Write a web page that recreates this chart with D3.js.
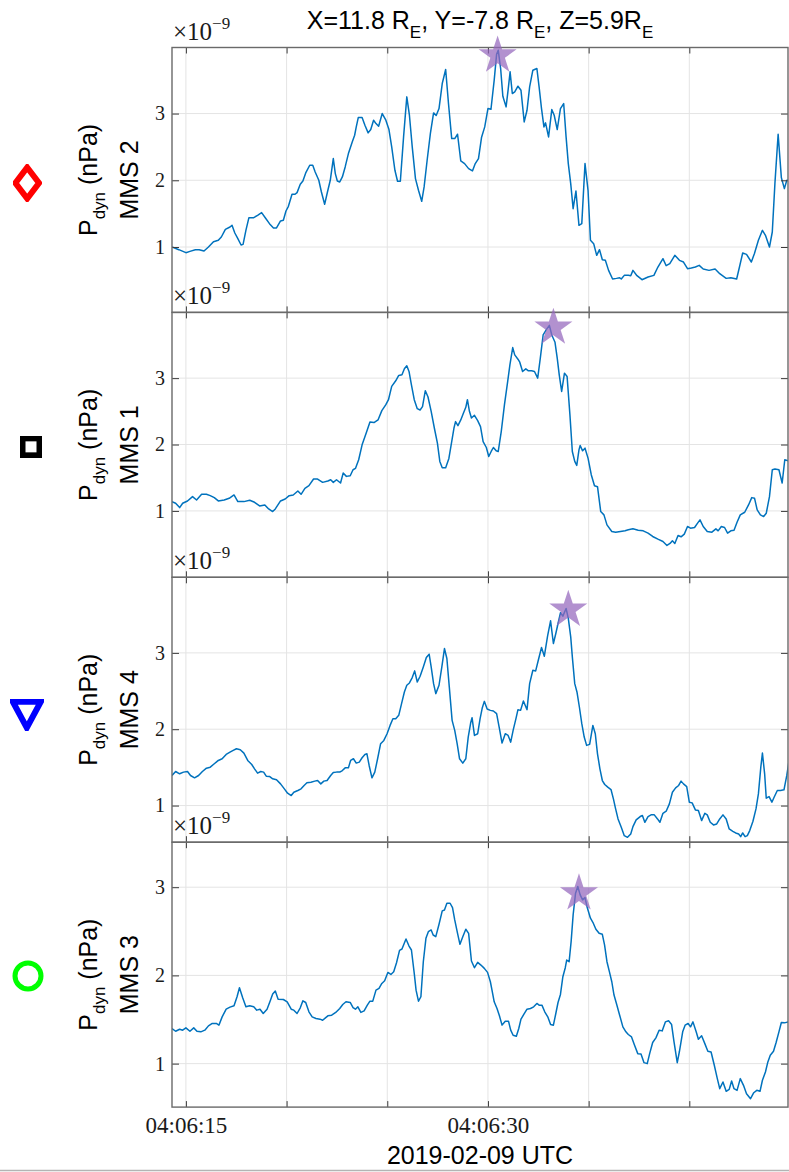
<!DOCTYPE html>
<html>
<head>
<meta charset="utf-8">
<script src="https://cdn.jsdelivr.net/npm/d3@7"></script>
<style>
  body { margin: 0; background: #fff; }
  svg { display: block; }
</style>
</head>
<body>
<svg id="chart" width="789" height="1172"></svg>
<script>
// Dynamic pressure, seconds after 04:06:00 UTC (values in units of 1e-9)
const tMMS2 = [14.31,14.65,15.00,15.20,15.47,15.66,15.90,16.12,16.37,16.61,16.76,16.96,17.19,17.29,17.43,17.58,17.74,17.84,17.98,18.13,18.37,18.56,18.76,18.95,19.15,19.35,19.50,19.70,19.84,19.97,20.09,20.27,20.42,20.52,20.68,20.81,20.95,21.15,21.30,21.42,21.60,21.73,21.89,22.03,22.17,22.32,22.42,22.52,22.64,22.77,22.91,23.07,23.26,23.38,23.46,23.56,23.75,23.89,24.05,24.18,24.32,24.44,24.57,24.75,24.93,25.08,25.22,25.38,25.51,25.65,25.81,25.97,26.10,26.24,26.40,26.55,26.71,26.83,26.98,27.14,27.30,27.43,27.57,27.73,27.90,28.04,28.20,28.35,28.49,28.65,28.84,29.04,29.23,29.37,29.53,29.68,29.84,30.00,30.15,30.31,30.43,30.51,30.63,30.74,30.90,31.00,31.10,31.21,31.33,31.49,31.64,31.80,31.94,32.07,32.23,32.43,32.54,32.66,32.78,32.86,33.01,33.17,33.29,33.44,33.60,33.76,33.88,33.99,34.11,34.23,34.37,34.52,34.66,34.82,34.97,35.09,35.25,35.40,35.54,35.68,35.83,35.99,36.19,36.38,36.54,36.62,36.77,36.97,37.09,37.20,37.40,37.65,37.95,38.24,38.44,38.69,38.85,39.03,39.28,39.51,39.71,39.91,40.10,40.30,40.49,40.69,40.98,41.28,41.51,41.83,42.06,42.35,42.49,42.65,42.84,43.08,43.23,43.43,43.63,43.78,43.98,44.12,44.25,44.41,44.57,44.72,44.84,44.94];
const pMMS2 = [1.00,0.96,0.915,0.935,0.96,0.96,0.94,1.00,1.08,1.10,1.15,1.265,1.30,1.325,1.21,1.125,1.03,1.04,1.25,1.44,1.44,1.475,1.515,1.435,1.35,1.285,1.285,1.39,1.40,1.54,1.61,1.79,1.79,1.815,1.94,1.99,2.11,2.225,2.225,2.125,2.00,1.825,1.64,1.825,2.00,2.325,2.10,1.99,1.975,2.05,2.20,2.40,2.575,2.675,2.80,2.94,2.94,2.825,2.71,2.76,2.90,2.85,2.81,3.00,2.90,2.765,2.50,2.15,1.985,1.985,2.65,3.25,2.975,2.50,2.025,1.85,1.685,1.90,2.30,2.70,3.01,2.97,3.075,3.45,3.66,3.15,2.625,2.625,2.69,2.29,2.25,2.175,2.14,2.25,2.325,2.64,2.80,3.075,3.065,3.50,3.89,3.95,3.675,3.26,3.10,3.35,3.625,3.30,3.325,3.41,3.35,2.875,3.05,3.40,3.65,3.675,3.40,3.075,2.80,2.86,2.65,3.06,2.975,2.76,3.075,3.15,2.65,2.25,1.95,1.575,1.84,1.325,1.35,2.25,1.85,1.10,1.05,0.875,0.96,0.81,0.80,0.65,0.52,0.53,0.54,0.52,0.575,0.575,0.57,0.65,0.57,0.51,0.55,0.575,0.70,0.825,0.72,0.75,0.875,0.80,0.775,0.675,0.685,0.70,0.725,0.67,0.65,0.67,0.60,0.53,0.54,0.52,0.70,0.91,0.89,0.775,0.90,1.10,1.25,1.175,1.00,1.225,1.95,2.69,2.04,1.875,2.00,2.00];

const tMMS1 = [14.31,14.49,14.69,14.84,15.08,15.33,15.53,15.78,16.02,16.21,16.41,16.61,16.90,17.15,17.39,17.58,17.88,18.17,18.41,18.66,18.92,19.11,19.31,19.44,19.70,19.93,20.13,20.33,20.56,20.72,20.91,21.11,21.34,21.54,21.79,22.05,22.19,22.32,22.48,22.68,22.81,22.97,23.16,23.30,23.42,23.58,23.75,23.95,24.14,24.34,24.54,24.73,24.93,25.06,25.22,25.42,25.57,25.73,25.85,25.97,26.08,26.20,26.34,26.49,26.63,26.75,26.89,27.02,27.18,27.34,27.49,27.61,27.73,27.90,28.06,28.20,28.31,28.39,28.51,28.65,28.78,28.90,28.98,29.08,29.18,29.33,29.49,29.63,29.76,29.92,30.04,30.16,30.27,30.41,30.51,30.66,30.82,30.98,31.09,31.23,31.33,31.49,31.58,31.72,31.88,32.01,32.17,32.31,32.47,32.60,32.74,32.90,33.05,33.17,33.33,33.44,33.54,33.66,33.80,33.93,34.07,34.19,34.31,34.41,34.52,34.58,34.70,34.82,34.97,35.13,35.29,35.44,35.60,35.76,35.91,36.15,36.34,36.58,36.81,36.97,37.20,37.46,37.71,37.95,38.18,38.44,38.69,38.89,39.04,39.16,39.28,39.44,39.59,39.75,39.91,40.06,40.26,40.41,40.53,40.69,40.89,41.12,41.32,41.43,41.59,41.75,41.90,42.06,42.22,42.37,42.53,42.75,42.94,43.10,43.24,43.37,43.53,43.69,43.82,43.98,44.12,44.25,44.45,44.61,44.74,44.90];
const pMMS1 = [1.14,1.115,1.05,1.115,1.15,1.215,1.165,1.25,1.25,1.23,1.20,1.15,1.165,1.19,1.24,1.14,1.14,1.16,1.13,1.075,1.09,1.03,0.99,1.03,1.15,1.18,1.23,1.24,1.30,1.25,1.34,1.38,1.48,1.48,1.43,1.45,1.47,1.43,1.47,1.42,1.57,1.52,1.53,1.62,1.64,1.77,1.995,2.17,2.34,2.33,2.37,2.51,2.60,2.675,2.875,2.96,3.04,3.05,3.14,3.185,3.10,2.90,2.675,2.54,2.52,2.57,2.81,2.72,2.50,2.245,2.02,1.745,1.65,1.65,1.79,2.045,2.245,2.345,2.285,2.37,2.47,2.56,2.675,2.50,2.40,2.44,2.36,2.27,2.045,1.955,1.82,1.895,1.955,1.905,1.895,2.195,2.60,2.95,3.20,3.46,3.35,3.285,3.24,3.10,3.14,3.11,3.11,3.10,3.00,3.30,3.65,3.73,3.795,3.65,3.54,3.30,3.05,2.80,3.075,3.025,2.45,1.895,1.745,1.685,1.92,1.985,1.905,1.945,1.795,1.545,1.38,1.365,0.99,0.94,0.79,0.69,0.68,0.69,0.70,0.715,0.73,0.71,0.70,0.665,0.615,0.575,0.54,0.48,0.51,0.55,0.51,0.63,0.61,0.65,0.765,0.74,0.75,0.815,0.865,0.765,0.69,0.68,0.73,0.70,0.765,0.75,0.665,0.70,0.71,0.83,0.94,0.98,1.09,1.20,1.19,1.015,0.94,0.915,0.965,1.215,1.62,1.63,1.62,1.42,1.77,1.755];

const tMMS4 = [14.31,14.49,14.69,14.88,15.08,15.23,15.43,15.63,15.82,16.02,16.21,16.41,16.61,16.80,17.00,17.19,17.35,17.51,17.70,17.88,18.07,18.27,18.41,18.56,18.72,18.86,18.99,19.15,19.31,19.50,19.70,19.89,20.05,20.23,20.36,20.56,20.72,20.87,21.01,21.21,21.40,21.54,21.70,21.85,22.01,22.19,22.32,22.48,22.64,22.77,22.91,23.07,23.18,23.32,23.46,23.61,23.75,23.89,23.99,24.10,24.24,24.38,24.52,24.67,24.83,24.99,25.14,25.28,25.42,25.57,25.71,25.85,25.97,26.10,26.24,26.36,26.49,26.63,26.79,26.94,27.08,27.18,27.30,27.41,27.57,27.71,27.84,27.96,28.08,28.22,28.35,28.47,28.59,28.75,28.90,29.02,29.14,29.21,29.33,29.49,29.61,29.72,29.82,29.96,30.12,30.27,30.43,30.57,30.70,30.86,31.00,31.13,31.25,31.39,31.49,31.62,31.76,31.94,32.07,32.23,32.37,32.50,32.66,32.80,32.96,33.11,33.25,33.37,33.48,33.60,33.72,33.88,33.99,34.11,34.19,34.31,34.42,34.54,34.66,34.78,34.90,35.05,35.21,35.33,35.44,35.56,35.68,35.80,35.95,36.11,36.23,36.34,36.46,36.62,36.77,36.93,37.09,37.20,37.36,37.56,37.67,37.79,37.95,38.10,38.26,38.42,38.54,38.69,38.85,39.01,39.16,39.32,39.47,39.59,39.71,39.87,40.00,40.14,40.30,40.45,40.61,40.77,40.89,41.04,41.20,41.36,41.51,41.67,41.83,41.98,42.16,42.30,42.45,42.55,42.65,42.77,42.88,43.00,43.16,43.31,43.43,43.55,43.63,43.74,43.82,43.96,44.10,44.21,44.37,44.53,44.70,44.84,44.94];
const pMMS4 = [1.394,1.446,1.416,1.438,1.446,1.394,1.363,1.394,1.446,1.490,1.503,1.547,1.591,1.613,1.670,1.700,1.722,1.744,1.731,1.687,1.591,1.538,1.481,1.424,1.446,1.438,1.385,1.381,1.350,1.337,1.284,1.219,1.162,1.131,1.175,1.197,1.219,1.263,1.298,1.306,1.320,1.328,1.284,1.320,1.328,1.394,1.433,1.438,1.438,1.459,1.494,1.494,1.591,1.613,1.556,1.569,1.626,1.670,1.678,1.525,1.363,1.438,1.613,1.810,1.853,1.941,2.050,2.138,2.138,2.182,2.335,2.488,2.576,2.606,2.676,2.764,2.619,2.694,2.816,2.939,2.983,2.816,2.597,2.466,2.576,2.816,3.057,2.926,2.554,2.116,1.985,1.810,1.613,1.556,1.613,1.897,2.081,2.151,1.919,1.941,2.138,2.282,2.365,2.265,2.247,2.239,2.204,2.007,1.818,1.941,1.919,1.831,1.985,2.138,2.256,2.247,2.370,2.256,2.597,2.772,2.764,2.904,3.070,2.956,3.219,3.420,3.123,3.254,3.385,3.525,3.481,3.582,3.451,3.210,2.948,2.597,2.488,2.291,2.072,1.897,1.788,1.801,2.050,1.941,1.678,1.481,1.328,1.276,1.241,1.210,1.088,0.956,0.825,0.715,0.606,0.584,0.628,0.724,0.812,0.856,0.869,0.781,0.856,0.878,0.878,0.825,0.781,0.899,0.926,1.022,1.175,1.232,1.263,1.320,1.284,1.249,1.044,1.035,0.943,0.934,0.803,0.899,0.878,0.781,0.746,0.759,0.825,0.878,0.825,0.694,0.663,0.641,0.628,0.593,0.641,0.593,0.606,0.672,0.794,0.956,1.153,1.503,1.687,1.416,1.096,1.118,1.044,1.109,1.197,1.197,1.206,1.394,1.569];

const tMMS3 = [14.31,14.49,14.69,14.84,15.00,15.20,15.39,15.55,15.74,15.94,16.12,16.31,16.51,16.64,16.80,17.00,17.19,17.39,17.54,17.66,17.82,17.98,18.17,18.37,18.52,18.68,18.84,19.03,19.19,19.31,19.44,19.58,19.84,20.03,20.23,20.36,20.52,20.68,20.81,20.95,21.11,21.27,21.46,21.66,21.79,21.93,22.05,22.24,22.44,22.64,22.79,22.95,23.16,23.30,23.42,23.54,23.69,23.85,24.01,24.14,24.28,24.44,24.59,24.73,24.87,25.03,25.18,25.32,25.46,25.61,25.73,25.93,26.08,26.20,26.34,26.43,26.55,26.67,26.79,26.92,27.04,27.18,27.28,27.41,27.57,27.73,27.84,27.96,28.12,28.24,28.35,28.49,28.61,28.75,28.90,29.04,29.18,29.33,29.49,29.65,29.82,29.98,30.12,30.21,30.31,30.45,30.57,30.70,30.86,31.02,31.13,31.25,31.41,31.53,31.64,31.78,31.94,32.11,32.27,32.43,32.54,32.68,32.82,32.97,33.11,33.25,33.37,33.48,33.60,33.72,33.84,33.91,34.03,34.13,34.23,34.35,34.46,34.58,34.70,34.82,34.93,35.09,35.21,35.36,35.52,35.68,35.79,35.91,36.03,36.15,36.26,36.38,36.54,36.70,36.85,36.97,37.13,37.28,37.44,37.60,37.75,37.91,38.03,38.18,38.34,38.50,38.65,38.81,38.97,39.12,39.24,39.40,39.51,39.67,39.79,39.94,40.06,40.18,40.34,40.45,40.61,40.77,40.92,41.08,41.24,41.39,41.51,41.67,41.83,41.98,42.10,42.22,42.37,42.53,42.69,42.84,43.04,43.20,43.35,43.51,43.63,43.78,43.90,44.02,44.18,44.31,44.45,44.57,44.72,44.92];
const pMMS3 = [1.398,1.367,1.390,1.379,1.405,1.367,1.405,1.367,1.360,1.379,1.428,1.455,1.455,1.436,1.530,1.617,1.640,1.655,1.758,1.860,1.746,1.644,1.655,1.644,1.606,1.617,1.568,1.617,1.712,1.788,1.822,1.731,1.727,1.701,1.617,1.606,1.568,1.633,1.712,1.693,1.587,1.530,1.511,1.504,1.492,1.519,1.542,1.549,1.580,1.625,1.670,1.701,1.693,1.636,1.617,1.644,1.580,1.598,1.663,1.708,1.708,1.833,1.852,1.909,1.939,2.034,2.011,2.042,2.144,2.284,2.299,2.413,2.333,2.288,2.023,1.833,1.708,1.758,2.155,2.420,2.496,2.515,2.458,2.439,2.580,2.731,2.742,2.818,2.818,2.769,2.629,2.477,2.352,2.439,2.523,2.477,2.163,2.087,2.148,2.117,2.080,2.034,1.928,1.822,1.701,1.625,1.542,1.436,1.481,1.481,1.379,1.322,1.311,1.398,1.504,1.557,1.617,1.625,1.644,1.682,1.663,1.663,1.587,1.530,1.443,1.436,1.568,1.693,1.784,1.985,2.087,2.174,2.155,2.383,2.686,2.932,3.008,2.913,2.856,2.882,2.769,2.648,2.602,2.523,2.477,2.466,2.345,2.155,2.042,1.928,1.777,1.682,1.549,1.417,1.360,1.330,1.303,1.208,1.113,1.110,1.011,1.000,1.113,1.239,1.292,1.379,1.371,1.473,1.485,1.443,1.246,1.011,1.140,1.360,1.436,1.455,1.417,1.473,1.360,1.277,1.315,1.227,1.140,1.132,0.981,0.830,0.716,0.792,0.686,0.708,0.803,0.716,0.697,0.830,0.754,0.659,0.602,0.670,0.697,0.686,0.811,0.905,1.019,1.095,1.140,1.239,1.360,1.466,1.462,1.473];

// Panel order, labels and marker glyphs
const spacecraft = ["MMS 2", "MMS 1", "MMS 4", "MMS 3"];
const seriesTimes = [tMMS2, tMMS1, tMMS4, tMMS3];
const seriesValues = [pMMS2, pMMS1, pMMS4, pMMS3];
const yLimits = [[0.02, 3.99], [0.0, 3.99], [0.52, 3.99], [0.507, 3.51]];
const markerShapes = ["diamond", "square", "triangle", "circle"];
const markerColors = ["#ff0000", "#000000", "#0000ff", "#00ff00"];

// Peak markers (time, value) per panel
const peakTimes = [30.48, 33.25, 33.99, 34.52];
const peakValues = [3.87, 3.76, 3.565, 2.93];

// Axis ticks
const timeLimits = [14.31, 44.90];
const xTickTimes = [15, 20, 25, 30, 35, 40];
const xTickLabels = { 15: "04:06:15", 30: "04:06:30" };
const yTickValues = [1, 2, 3];
const exponentLabel = "\u22129";

const SANS = "'Liberation Sans', Arial, Helvetica, sans-serif";
const SERIF = "'Liberation Serif', 'Times New Roman', serif";

const svg = d3.select("#chart");
const W = 789, H = 1172;
const plotLeft = 172, plotRight = 788, plotTop = 47.5, panelH = 264.9;
const lineColor = "#0072bd";
const gridColor = "#e4e4e4";
const frameColor = "#6a6a6a";
const tickColor = "#3a3a3a";

svg.append("rect").attr("width", W).attr("height", H).attr("fill", "#fff");

const defs = svg.append("defs");
defs.append("filter").attr("id", "soft")
  .append("feGaussianBlur").attr("stdDeviation", 0.7);

const x = d3.scaleLinear().domain(timeLimits).range([plotLeft, plotRight]);

spacecraft.forEach((name, i) => {
  const y0 = plotTop + i * panelH;
  const y1 = y0 + panelH;
  const y = d3.scaleLinear().domain(yLimits[i]).range([y1, y0]);
  const g = svg.append("g").attr("class", "panel");

  const clipId = "clip" + i;
  defs.append("clipPath").attr("id", clipId)
    .append("rect").attr("x", plotLeft).attr("y", y0)
    .attr("width", plotRight - plotLeft).attr("height", panelH);

  // grid
  g.append("g").selectAll("line").data(xTickTimes).join("line")
    .attr("x1", d => x(d)).attr("x2", d => x(d))
    .attr("y1", y0).attr("y2", y1)
    .attr("stroke", gridColor).attr("stroke-width", 1);
  g.append("g").selectAll("line").data(yTickValues).join("line")
    .attr("x1", plotLeft).attr("x2", plotRight)
    .attr("y1", d => y(d)).attr("y2", d => y(d))
    .attr("stroke", gridColor).attr("stroke-width", 1);

  // time series
  const pts = d3.zip(seriesTimes[i], seriesValues[i]);
  const line = d3.line().x(d => x(d[0])).y(d => y(d[1]));
  g.append("path").datum(pts)
    .attr("clip-path", `url(#${clipId})`)
    .attr("fill", "none").attr("stroke", lineColor)
    .attr("stroke-width", 1.5).attr("stroke-linejoin", "round")
    .attr("d", line);

  // axes (inward ticks on all four sides)
  const styleAxis = a => {
    a.select(".domain").remove();
    a.selectAll(".tick line").attr("stroke", tickColor).attr("stroke-width", 1);
  };
  const axL = g.append("g").attr("transform", `translate(${plotLeft},0)`)
    .call(d3.axisLeft(y).tickValues(yTickValues).tickSize(-7).tickPadding(7).tickFormat(d3.format("d")))
    .call(styleAxis);
  axL.selectAll(".tick text").attr("font-family", SERIF).attr("font-size", 20).attr("fill", "#1a1a1a");

  g.append("g").attr("transform", `translate(${plotRight},0)`)
    .call(d3.axisRight(y).tickValues(yTickValues).tickSize(-7).tickFormat(""))
    .call(styleAxis);

  g.append("g").attr("transform", `translate(0,${y0})`)
    .call(d3.axisTop(x).tickValues(xTickTimes).tickSize(-6).tickFormat(""))
    .call(styleAxis);

  const last = i === spacecraft.length - 1;
  const axB = g.append("g").attr("transform", `translate(0,${y1})`)
    .call(d3.axisBottom(x).tickValues(xTickTimes).tickSize(-6).tickPadding(10)
      .tickFormat(d => last ? (xTickLabels[d] || "") : ""))
    .call(styleAxis);
  axB.selectAll(".tick text").attr("font-family", SERIF).attr("font-size", 23).attr("fill", "#1a1a1a");

  // frame
  g.append("rect").attr("x", plotLeft).attr("y", y0)
    .attr("width", plotRight - plotLeft).attr("height", panelH)
    .attr("fill", "none").attr("stroke", frameColor).attr("stroke-width", 1.4);

  // peak star
  g.append("path")
    .attr("d", d3.symbol().type(d3.symbolStar).size(449)())
    .attr("transform", `translate(${x(peakTimes[i])},${y(peakValues[i])})`)
    .attr("fill", "#9467bd").attr("fill-opacity", 0.72);

  // exponent label
  const ex = g.append("text").attr("x", plotLeft + 1).attr("y", y0 - 8)
    .attr("font-family", SERIF).attr("font-size", 25).attr("fill", "#1a1a1a");
  ex.append("tspan").text("\u00d710");
  ex.append("tspan").attr("dy", -11).attr("font-size", 17).text(exponentLabel);

  // y-axis label, two lines
  const cy = (y0 + y1) / 2;
  const l1 = g.append("text").attr("transform", `translate(97,${cy}) rotate(-90)`)
    .attr("text-anchor", "middle").attr("font-family", SANS).attr("font-size", 25).attr("fill", "#000");
  l1.append("tspan").text("P");
  l1.append("tspan").attr("dy", 8).attr("font-size", 17).text("dyn");
  l1.append("tspan").attr("dy", -8).text(" (nPa)");
  g.append("text").attr("transform", `translate(138,${cy}) rotate(-90)`)
    .attr("text-anchor", "middle").attr("font-family", SANS).attr("font-size", 25).attr("fill", "#000")
    .text(name);

  // spacecraft glyph
  const mk = g.append("g").attr("filter", "url(#soft)")
    .attr("fill", "none").attr("stroke", markerColors[i]).attr("stroke-width", 6)
    .attr("stroke-linejoin", "miter");
  const shape = markerShapes[i];
  if (shape === "diamond") {
    const mx = 27.2, my = cy + 3;
    mk.append("path").attr("d", d3.line()([[mx, my - 15.5], [mx + 11.8, my], [mx, my + 15.5], [mx - 11.8, my]]) + "Z");
  } else if (shape === "square") {
    const mx = 31, my = cy + 2;
    mk.append("rect").attr("x", mx - 8.5).attr("y", my - 8.5).attr("width", 17).attr("height", 17);
  } else if (shape === "triangle") {
    const mx = 26.8;
    mk.append("path").attr("d", d3.line()([[mx - 14, cy - 8], [mx + 14, cy - 8], [mx, cy + 18]]) + "Z");
  } else {
    mk.append("circle").attr("cx", 28).attr("cy", cy + 1.3).attr("r", 13).attr("stroke-width", 5);
  }
});

// title
const title = svg.append("text").attr("x", 480).attr("y", 29)
  .attr("text-anchor", "middle").attr("font-family", SANS).attr("font-size", 25).attr("fill", "#000");
title.append("tspan").text("X=11.8 R");
title.append("tspan").attr("dy", 9).attr("font-size", 17).text("E");
title.append("tspan").attr("dy", -9).text(", Y=-7.8 R");
title.append("tspan").attr("dy", 9).attr("font-size", 17).text("E");
title.append("tspan").attr("dy", -9).text(", Z=5.9R");
title.append("tspan").attr("dy", 9).attr("font-size", 17).text("E");

// x-axis label
svg.append("text").attr("x", 480).attr("y", 1164)
  .attr("text-anchor", "middle").attr("font-family", SANS).attr("font-size", 25).attr("fill", "#000")
  .text("2019-02-09 UTC");

// bottom edge rule
svg.append("line").attr("x1", 0).attr("x2", W).attr("y1", 1170.5).attr("y2", 1170.5)
  .attr("stroke", "#b4b4b4").attr("stroke-width", 1.5);
</script>
</body>
</html>
